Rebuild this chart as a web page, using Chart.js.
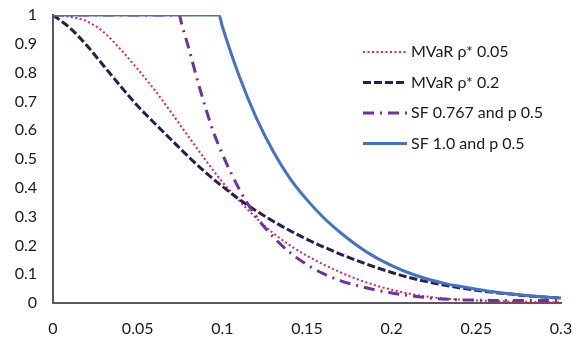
<!DOCTYPE html>
<html>
<head>
<meta charset="utf-8">
<script src="https://cdn.jsdelivr.net/npm/chart.js@4.4.1/dist/chart.umd.min.js"></script>
<style>
  html, body { margin: 0; padding: 0; background: #fff; }
  #wrap { width: 575px; height: 339px; }
</style>
</head>
<body>
<div id="wrap"><canvas id="chart" width="575" height="339"></canvas></div>
<script>
// x positions
const xMvar = [0, 0.01, 0.02, 0.03, 0.04, 0.05, 0.06, 0.07, 0.08, 0.09, 0.1,
  0.11, 0.12, 0.13, 0.14, 0.15, 0.16, 0.17, 0.18, 0.19, 0.2,
  0.21, 0.22, 0.23, 0.24, 0.25, 0.26, 0.27, 0.28, 0.29, 0.3];
const xSf767 = [0, 0.0745, 0.076, 0.08, 0.085, 0.09, 0.095, 0.1,
  0.11, 0.12, 0.13, 0.14, 0.15, 0.16, 0.17, 0.18, 0.19, 0.2,
  0.21, 0.22, 0.23, 0.24, 0.25, 0.26, 0.27, 0.28, 0.29, 0.3];
const xSf10 = [0, 0.098, 0.1,
  0.11, 0.12, 0.13, 0.14, 0.15, 0.16, 0.17, 0.18, 0.19, 0.2,
  0.21, 0.22, 0.23, 0.24, 0.25, 0.26, 0.27, 0.28, 0.29, 0.3];

// series values
const mvar005 = [1, 0.994, 0.978, 0.94, 0.88, 0.812, 0.74, 0.66, 0.578, 0.497, 0.42,
  0.355, 0.295, 0.243, 0.2, 0.164, 0.133, 0.106, 0.082, 0.062, 0.046,
  0.033, 0.023, 0.016, 0.012, 0.009, 0.007, 0.005, 0.004, 0.003, 0.003];
const mvar02 = [1, 0.955, 0.894, 0.823, 0.752, 0.684, 0.624, 0.566, 0.508, 0.454, 0.405,
  0.36, 0.32, 0.284, 0.251, 0.221, 0.194, 0.169, 0.146, 0.125, 0.106,
  0.089, 0.075, 0.063, 0.053, 0.044, 0.037, 0.031, 0.025, 0.021, 0.017];
const sf767 = [1, 1, 0.968, 0.888, 0.78, 0.679, 0.59, 0.517,
  0.395, 0.3, 0.23, 0.175, 0.133, 0.101, 0.077, 0.06, 0.046, 0.035,
  0.026, 0.019, 0.014, 0.011, 0.01, 0.009, 0.009, 0.009, 0.009, 0.009];
const sf10 = [1, 1, 0.96,
  0.787, 0.644, 0.527, 0.432, 0.358, 0.295, 0.243, 0.198, 0.16, 0.13,
  0.105, 0.085, 0.07, 0.058, 0.048, 0.039, 0.032, 0.026, 0.021, 0.017];

const seriesNames = ['MVaR ρ* 0.05', 'MVaR ρ* 0.2', 'SF 0.767 and p 0.5', 'SF 1.0 and p 0.5'];
const xTicks = [0, 0.05, 0.1, 0.15, 0.2, 0.25, 0.3];

const FONT = 'Lato, "Open Sans", sans-serif';
const pts = (xs, ys) => xs.map((x, i) => ({ x: x, y: ys[i] }));

// legend drawn inside the plot, like the original
const insideLegend = {
  id: 'insideLegend',
  afterDatasetsDraw(chart) {
    const ctx = chart.ctx;
    const area = chart.chartArea;
    const x0 = area.right - 198;
    const y0 = area.top + 37;
    ctx.save();
    ctx.font = '16px ' + FONT;
    ctx.textBaseline = 'middle';
    ctx.fillStyle = '#1a1a1a';
    chart.data.datasets.forEach((ds, i) => {
      const y = y0 + i * 30.5;
      ctx.beginPath();
      ctx.strokeStyle = ds.borderColor;
      ctx.lineWidth = ds.borderWidth;
      ctx.setLineDash(ds.borderDash || []);
      ctx.moveTo(x0, y);
      ctx.lineTo(x0 + 44, y);
      ctx.stroke();
      ctx.setLineDash([]);
      ctx.fillText(ds.label, x0 + 48, y);
    });
    ctx.restore();
  }
};

new Chart(document.getElementById('chart').getContext('2d'), {
  type: 'line',
  data: {
    datasets: [
      {
        label: seriesNames[0],
        data: pts(xMvar, mvar005),
        borderColor: '#E8204E',
        borderWidth: 2,
        borderDash: [2, 2.5],
        order: 4
      },
      {
        label: seriesNames[1],
        data: pts(xMvar, mvar02),
        borderColor: '#23214F',
        borderWidth: 3,
        borderDash: [8, 3],
        order: 3
      },
      {
        label: seriesNames[2],
        data: pts(xSf767, sf767),
        borderColor: '#7030A0',
        borderWidth: 3,
        borderDash: [11, 6, 2, 6],
        order: 2
      },
      {
        label: seriesNames[3],
        data: pts(xSf10, sf10),
        borderColor: '#4472C4',
        borderWidth: 3,
        order: 1
      }
    ]
  },
  options: {
    responsive: false,
    animation: false,
    layout: { padding: { top: 15, right: 14, left: 0, bottom: 0 } },
    elements: {
      point: { radius: 0 },
      line: { cubicInterpolationMode: 'monotone', fill: false }
    },
    plugins: {
      legend: { display: false },
      tooltip: { enabled: false }
    },
    scales: {
      x: {
        type: 'linear',
        min: 0,
        max: 0.3,
        afterFit: s => { s.height = 36; s.paddingLeft = 0; s.paddingRight = 0; },
        afterBuildTicks: s => { s.ticks = xTicks.map(v => ({ value: v })); },
        grid: { display: false, drawTicks: false },
        border: { display: true, color: '#595959', width: 2 },
        ticks: {
          padding: 16,
          color: '#1a1a1a',
          font: { size: 16, family: FONT },
          maxRotation: 0,
          callback: v => String(+Number(v).toFixed(2))
        }
      },
      y: {
        min: 0,
        max: 1,
        afterFit: s => { s.width = 53; s.paddingTop = 0; s.paddingBottom = 0; },
        grid: { display: false, drawTicks: false },
        border: { display: true, color: '#595959', width: 2 },
        ticks: {
          stepSize: 0.1,
          padding: 16,
          color: '#1a1a1a',
          font: { size: 16, family: FONT },
          callback: v => String(+Number(v).toFixed(1))
        }
      }
    }
  },
  plugins: [insideLegend]
});
</script>
</body>
</html>
